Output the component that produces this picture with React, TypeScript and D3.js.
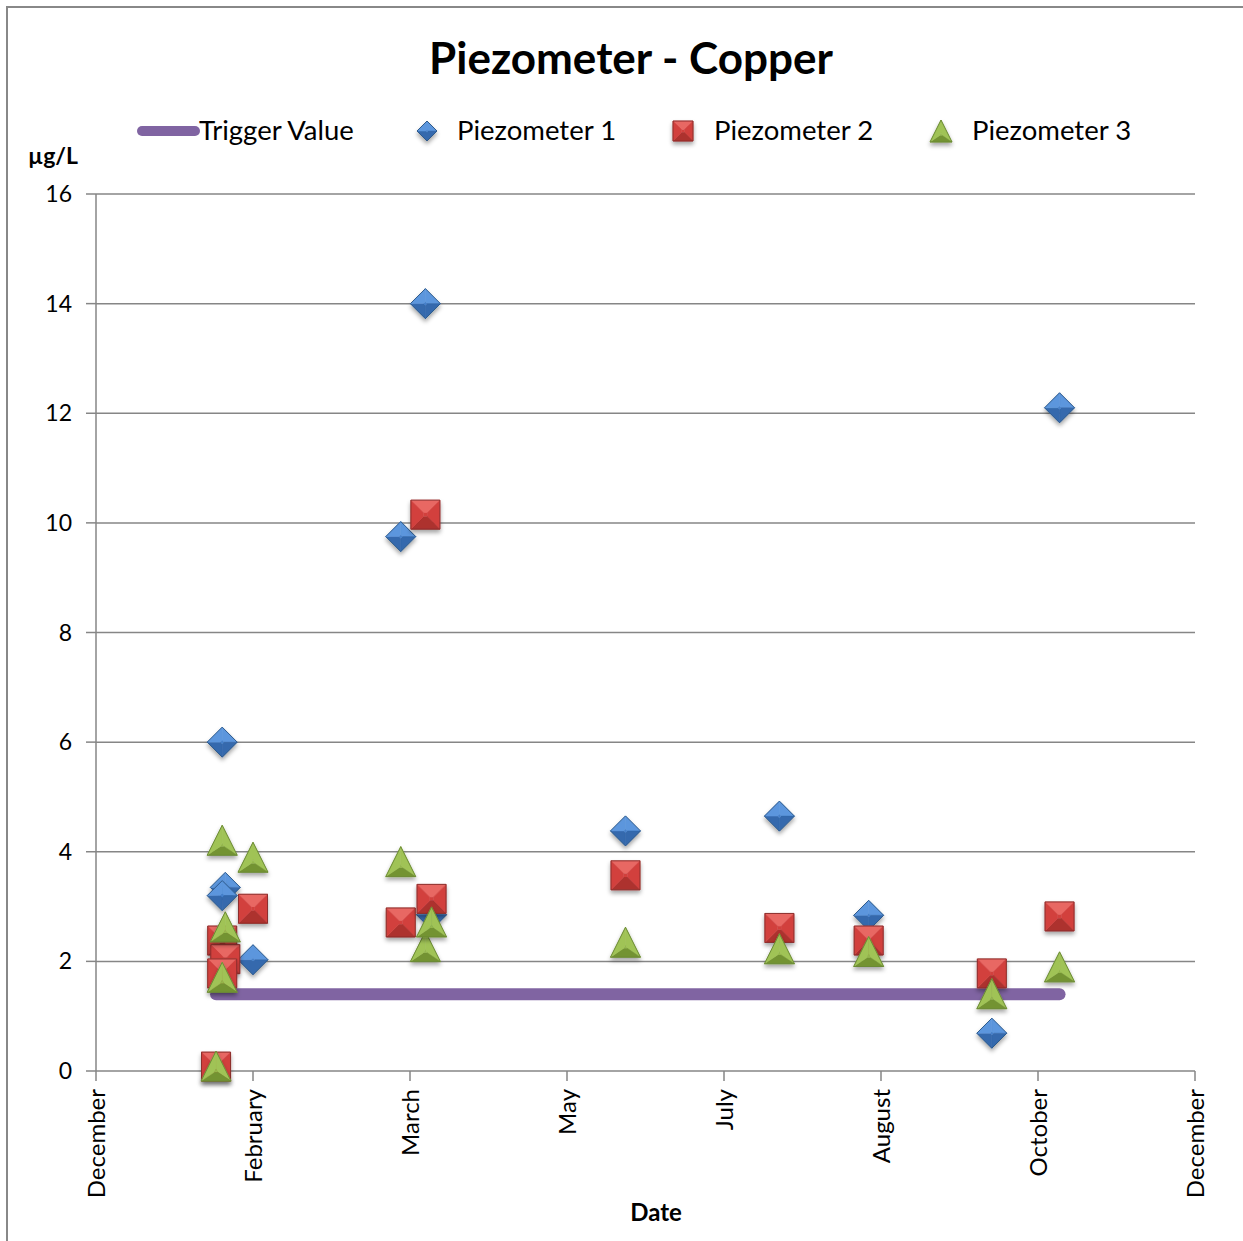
import React from "react";
import * as d3 from "d3";

const title = "Piezometer - Copper";
const yUnit = "µg/L";
const xTitle = "Date";

const tickDates = ["2009-12-15", "2010-02-04", "2010-03-27", "2010-05-17", "2010-07-07", "2010-08-27", "2010-10-17", "2010-12-07"];
const yTicks = [0, 2, 4, 6, 8, 10, 12, 14, 16];

const triggerDates = ["2010-01-23", "2010-10-24"];
const triggerValue = 1.4;

const p1Dates = ["2010-01-25", "2010-01-26", "2010-01-25", "2010-02-04", "2010-03-24", "2010-04-01", "2010-04-03", "2010-06-05", "2010-07-25", "2010-08-23", "2010-10-02", "2010-10-24"];
const p1Values = [6.0, 3.35, 3.2, 2.03, 9.75, 14.0, 2.85, 4.38, 4.65, 2.84, 0.69, 12.1];

const p2Dates = ["2010-01-23", "2010-01-25", "2010-01-26", "2010-01-25", "2010-02-04", "2010-03-24", "2010-04-01", "2010-04-03", "2010-06-05", "2010-07-25", "2010-08-23", "2010-10-02", "2010-10-24"];
const p2Values = [0.08, 2.38, 2.04, 1.78, 2.96, 2.71, 10.15, 3.14, 3.57, 2.61, 2.38, 1.78, 2.82];

const p3Dates = ["2010-01-23", "2010-01-25", "2010-01-26", "2010-01-25", "2010-02-04", "2010-03-24", "2010-04-01", "2010-04-03", "2010-06-05", "2010-07-25", "2010-08-23", "2010-10-02", "2010-10-24"];
const p3Values = [0.09, 4.21, 2.63, 1.71, 3.9, 3.82, 2.27, 2.72, 2.35, 2.23, 2.18, 1.41, 1.9];

const seriesNames = ["Trigger Value", "Piezometer 1", "Piezometer 2", "Piezometer 3"];

const parse = d3.timeParse("%Y-%m-%d");
const fmtMonth = d3.timeFormat("%B");

const FONT = "Lato, 'Open Sans', sans-serif";

type Shade = { light: string; mid: string; dark: string; outline: string };
const blue: Shade = { light: "#6aa3e6", mid: "#4480cc", dark: "#2b5c9c", outline: "#2d5a8c" };
const red: Shade = { light: "#ea6b67", mid: "#d2413e", dark: "#a92f2c", outline: "#8c2f2d" };
const green: Shade = { light: "#b3d468", mid: "#94b84a", dark: "#6f8f2f", outline: "#6b8a35" };
const triggerColor = "#8064a2";

type Shape = "diamond" | "square" | "triangle";

function verts(shape: Shape, s: number): [number, number][] {
  if (shape === "diamond") return [[0, -s], [s, 0], [0, s], [-s, 0]];
  if (shape === "square") return [[-s, -s], [s, -s], [s, s], [-s, s]];
  return [[0, -s], [s, s], [-s, s]];
}

function Marker({ x, y, shape, s, c }: { x: number; y: number; shape: Shape; s: number; c: Shade }) {
  const v = verts(shape, s);
  const cy = shape === "triangle" ? s * 0.33 : 0;
  const inner = v.map(([a, b]) => [a * 0.12, cy + (b - cy) * 0.12] as [number, number]);
  const interp = (t: number) =>
    t >= 0 ? d3.interpolateRgb(c.mid, c.light)(t) : d3.interpolateRgb(c.mid, c.dark)(-t);
  const facets = v.map((p, i) => {
    const q = v[(i + 1) % v.length];
    const ip = inner[i];
    const iq = inner[(i + 1) % v.length];
    const ex = q[0] - p[0];
    const ey = q[1] - p[1];
    const len = Math.hypot(ex, ey);
    const ny = -ex / len;
    const t = -ny;
    return { pts: [p, q, iq, ip], fill: interp(t * 0.9) };
  });
  const outline = v.map((p) => p.join(",")).join(" ");
  return (
    <g transform={`translate(${x},${y})`} filter="url(#shadow)">
      {facets.map((f, i) => (
        <polygon key={i} points={f.pts.map((p) => p.join(",")).join(" ")} fill={f.fill} stroke={f.fill} strokeWidth={0.5} />
      ))}
      <polygon points={inner.map((p) => p.join(",")).join(" ")} fill={c.mid} />
      <polygon points={outline} fill="none" stroke={c.outline} strokeWidth={1} />
    </g>
  );
}

export default function App() {
  const W = 1243;
  const H = 1241;
  const x = d3
    .scaleTime()
    .domain([parse(tickDates[0])!, parse(tickDates[tickDates.length - 1])!])
    .range([96, 1195]);
  const y = d3.scaleLinear().domain([0, 16]).range([1071, 194]);

  const series = [
    { dates: p1Dates, values: p1Values, shape: "diamond" as Shape, c: blue, s: 15 },
    { dates: p2Dates, values: p2Values, shape: "square" as Shape, c: red, s: 14.5 },
    { dates: p3Dates, values: p3Values, shape: "triangle" as Shape, c: green, s: 15 },
  ];

  const triggerLine = d3
    .line<string>()
    .x((d) => x(parse(d)!))
    .y(() => y(triggerValue));

  const legendItems = [
    { x: 427, tx: 457, shape: "diamond" as Shape, c: blue, s: 10 },
    { x: 683, tx: 714, shape: "square" as Shape, c: red, s: 10 },
    { x: 941, tx: 972, shape: "triangle" as Shape, c: green, s: 11 },
  ];

  return (
    <svg width={W} height={H} style={{ position: "absolute", left: 0, top: 0, background: "#fff" }}>
      <defs>
        <filter id="shadow" x="-50%" y="-50%" width="200%" height="200%">
          <feDropShadow dx="0" dy="3" stdDeviation="2" floodColor="#000" floodOpacity="0.35" />
        </filter>
      </defs>
      <rect x={0} y={0} width={W} height={H} fill="#fff" />
      <rect x={7} y={7} width={W + 20} height={H + 20} fill="none" stroke="#888" strokeWidth={2} />

      <text x={631} y={74} textAnchor="middle" fontFamily={FONT} fontWeight="bold" fontSize={44} fill="#000">
        {title}
      </text>

      {/* legend */}
      <line x1={142} x2={195} y1={131} y2={131} stroke={triggerColor} strokeWidth={10} strokeLinecap="round" />
      <text x={199} y={140} fontFamily={FONT} fontSize={27.5} fill="#000">{seriesNames[0]}</text>
      {legendItems.map((l, i) => (
        <g key={i}>
          <Marker x={l.x} y={131} shape={l.shape} s={l.s} c={l.c} />
          <text x={l.tx} y={140} fontFamily={FONT} fontSize={27.5} fill="#000">{seriesNames[i + 1]}</text>
        </g>
      ))}

      <text x={28} y={164} fontFamily={FONT} fontWeight="bold" fontSize={23} fill="#000">{yUnit}</text>

      {/* gridlines and y axis */}
      {yTicks.map((t) => (
        <g key={t}>
          {t > 0 && <line x1={96} x2={1195} y1={y(t)} y2={y(t)} stroke="#868686" strokeWidth={1.5} />}
          <line x1={86} x2={96} y1={y(t)} y2={y(t)} stroke="#868686" strokeWidth={1.5} />
          <text x={72} y={y(t) + 8} textAnchor="end" fontFamily={FONT} fontSize={23} fill="#000">{t}</text>
        </g>
      ))}
      <line x1={96} x2={96} y1={194} y2={1071} stroke="#868686" strokeWidth={1.5} />
      <line x1={96} x2={1195} y1={1071} y2={1071} stroke="#868686" strokeWidth={1.5} />

      {/* x axis */}
      {tickDates.map((d, i) => {
        const px = x(parse(d)!);
        return (
          <g key={i}>
            <line x1={px} x2={px} y1={1071} y2={1081} stroke="#868686" strokeWidth={1.5} />
            <text
              transform={`translate(${px + 8.5},1089) rotate(-90)`}
              textAnchor="end"
              fontFamily={FONT}
              fontSize={24}
              fill="#000"
            >
              {fmtMonth(parse(d)!)}
            </text>
          </g>
        );
      })}
      <text x={656} y={1221} textAnchor="middle" fontFamily={FONT} fontWeight="bold" fontSize={24} fill="#000">{xTitle}</text>

      {/* trigger line */}
      <path d={triggerLine(triggerDates) || ""} stroke={triggerColor} strokeWidth={12} strokeLinecap="round" fill="none" />

      {/* series */}
      {series.map((s, si) => (
        <g key={si}>
          {s.dates.map((d, i) => (
            <Marker key={i} x={x(parse(d)!)} y={y(s.values[i])} shape={s.shape} s={s.s} c={s.c} />
          ))}
        </g>
      ))}
    </svg>
  );
}
